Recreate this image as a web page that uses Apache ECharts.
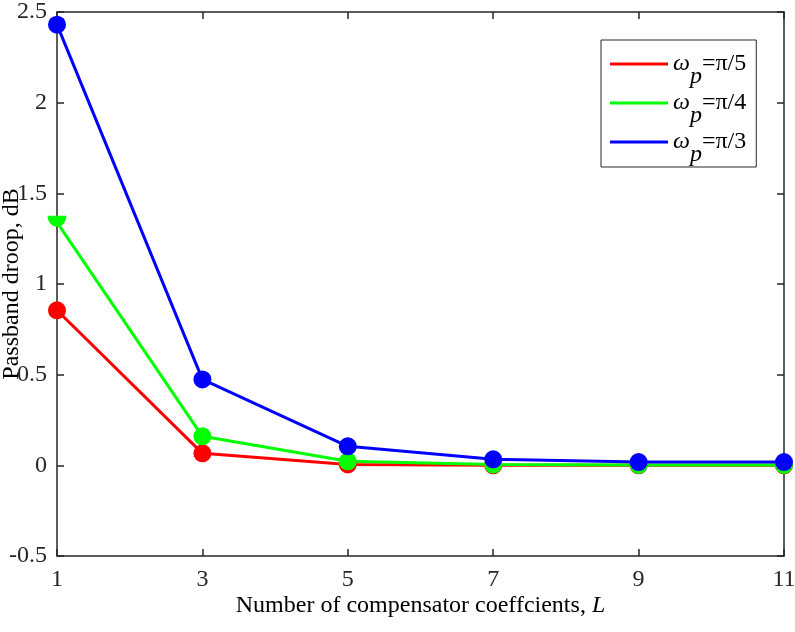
<!DOCTYPE html>
<html>
<head>
<meta charset="utf-8">
<script src="https://cdn.jsdelivr.net/npm/echarts@6/dist/echarts.min.js"></script>
<style>
html,body{margin:0;padding:0;background:#fff;}
#c{width:795px;height:632px;}
</style>
</head>
<body>
<div id="c"></div>
<script>
var xValues = [1, 3, 5, 7, 9, 11];
var redValues = [0.855, 0.066, 0.005, 0.0, 0.0, 0.0];
var greenValues = [1.34, 0.16, 0.022, 0.004, 0.002, 0.002];
var blueValues = [2.43, 0.474, 0.105, 0.033, 0.018, 0.018];
var seriesNames = ['ω_p=π/5', 'ω_p=π/4', 'ω_p=π/3'];
var legendTexts = ['=π/5', '=π/4', '=π/3'];
var xTitle = 'Number of compensator coeffcients, ';
var xTitleItalic = 'L';
var yTitle = 'Passband droop, dB';

function pairs(vals) {
  return xValues.map(function (x, i) { return [x, vals[i]]; });
}

var axisColor = '#262626';
var font = 'Liberation Serif';

var greenData = pairs(greenValues);
greenData[0] = {
  value: greenData[0],
  symbol: 'path://M0,0 L20,0 A10,10 0 0 1 0,0 Z',
  symbolSize: [19, 11],
  symbolOffset: [0, -1]
};

function mkSeries(name, data, color) {
  return {
    name: name,
    type: 'line',
    data: data,
    symbol: 'circle',
    symbolSize: 18,
    lineStyle: { color: color, width: 3 },
    itemStyle: { color: color },
    emphasis: { disabled: true },
    animation: false,
    clip: false
  };
}

var chart = echarts.init(document.getElementById('c'));
chart.setOption({
  backgroundColor: '#fff',
  animation: false,
  grid: { left: 57, right: 11, top: 12, bottom: 76, containLabel: false, outerBoundsMode: 'none' },
  legend: {
    left: 601, top: 40,
    width: 157,
    orient: 'vertical',
    padding: [12, 10, 0, 9],
    itemGap: 2,
    itemWidth: 58,
    itemHeight: 3,
    icon: 'rect',
    backgroundColor: '#fff',
    borderColor: axisColor,
    borderWidth: 1,
    selectedMode: false,
    data: seriesNames,
    formatter: function (name) {
      var i = seriesNames.indexOf(name);
      return '{w|ω}{p|p}{t|' + legendTexts[i] + '}';
    },
    textStyle: {
      fontFamily: font,
      color: '#000',
      rich: {
        w: { fontFamily: font, fontSize: 24, fontStyle: 'italic', color: '#000' },
        p: { fontFamily: font, fontSize: 24, fontStyle: 'italic', color: '#000', padding: [26, 0, 0, 0] },
        t: { fontFamily: font, fontSize: 24, color: '#000' }
      }
    }
  },
  xAxis: [{
    type: 'value',
    min: 1, max: 11, interval: 2,
    position: 'bottom',
    name: xTitle + '{i|' + xTitleItalic + '}',
    nameLocation: 'middle',
    nameGap: 38,
    nameMoveOverlap: false,
    nameTextStyle: {
      fontFamily: font, fontSize: 24, color: '#000',
      rich: { i: { fontFamily: font, fontSize: 24, fontStyle: 'italic', color: '#000' } }
    },
    axisLine: { show: true, onZero: false, lineStyle: { color: axisColor, width: 1.5 } },
    axisTick: { show: true, inside: true, length: 7, lineStyle: { color: axisColor, width: 1.5 } },
    axisLabel: { fontFamily: font, fontSize: 24, color: '#262626', margin: 12 },
    splitLine: { show: false }
  }, {
    type: 'value',
    min: 1, max: 11, interval: 2,
    position: 'top',
    axisLine: { show: true, onZero: false, lineStyle: { color: axisColor, width: 1.5 } },
    axisTick: { show: true, inside: true, length: 7, lineStyle: { color: axisColor, width: 1.5 } },
    axisLabel: { show: false },
    splitLine: { show: false }
  }],
  yAxis: [{
    type: 'value',
    min: -0.5, max: 2.5, interval: 0.5,
    position: 'left',
    name: yTitle,
    nameLocation: 'middle',
    nameGap: 33,
    nameMoveOverlap: false,
    nameTextStyle: { fontFamily: font, fontSize: 24, color: '#000' },
    axisLine: { show: true, onZero: false, lineStyle: { color: axisColor, width: 1.5 } },
    axisTick: { show: true, inside: true, length: 7, lineStyle: { color: axisColor, width: 1.5 } },
    axisLabel: { fontFamily: font, fontSize: 24, color: '#262626', margin: 10 },
    splitLine: { show: false }
  }, {
    type: 'value',
    min: -0.5, max: 2.5, interval: 0.5,
    position: 'right',
    axisLine: { show: true, onZero: false, lineStyle: { color: axisColor, width: 1.5 } },
    axisTick: { show: true, inside: true, length: 7, lineStyle: { color: axisColor, width: 1.5 } },
    axisLabel: { show: false },
    splitLine: { show: false }
  }],
  series: [
    mkSeries(seriesNames[0], pairs(redValues), '#ff0000'),
    mkSeries(seriesNames[1], greenData, '#00ff00'),
    mkSeries(seriesNames[2], pairs(blueValues), '#0000ff')
  ]
});
</script>
</body>
</html>
